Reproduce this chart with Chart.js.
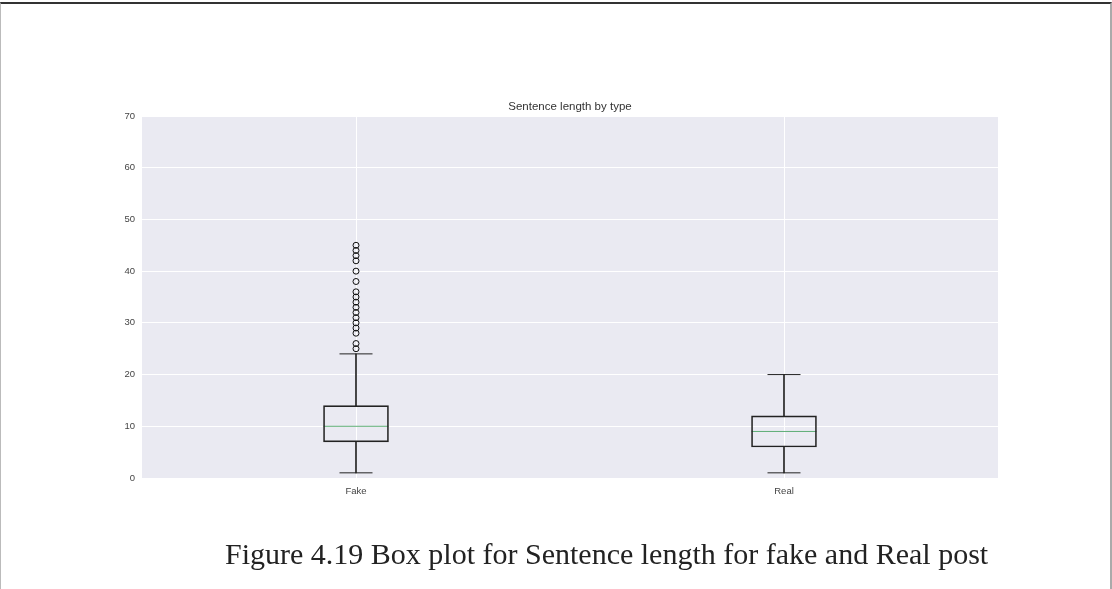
<!DOCTYPE html>
<html>
<head>
<meta charset="utf-8">
<script src="https://cdn.jsdelivr.net/npm/chart.js@4.4.1/dist/chart.umd.min.js"></script>
<style>
  html, body { margin: 0; padding: 0; background: #fff; }
  #page { position: relative; width: 1112px; height: 589px; overflow: hidden; }
  #frame { position: absolute; left: 0; top: 2px; width: 1109px; height: 600px;
           border-top: 2px solid #333; border-left: 1px solid #bbb; border-right: 2px solid #aaa; }
  #chart { position: absolute; left: 0; top: 0; }
  #caption { position: absolute; left: 225px; top: 537px; font-family: "Liberation Serif", "Times New Roman", serif;
             font-size: 30px; line-height: 34px; color: #222; white-space: nowrap; }
</style>
</head>
<body>
<div id="page">
  <div id="frame"></div>
  <canvas id="chart" width="1112" height="589"></canvas>
  <div id="caption">Figure 4.19 Box plot for Sentence length for fake and Real post</div>
</div>
<script>
document.addEventListener("DOMContentLoaded", () => {

  /* DATA */
  const categories = ["Fake", "Real"];
  const whiskerLow = [1, 1];
  const q1 = [7, 6];
  const median = [10, 9];
  const q3 = [14, 12];
  const whiskerHigh = [24, 20];
  const fakeOutliers = [25, 26, 28, 29, 30, 31, 32, 33, 34, 35, 36, 38, 40, 42, 43, 44, 45];
  const yMin = 0, yMax = 70, yStep = 10;
  const chartTitle = "Sentence length by type";

  const ink = "#222";
  const sans = "Liberation Sans, Arial, sans-serif";

  /* plot background + title centred over the plot area */
  const plotBg = {
    id: "plotBg",
    beforeDraw(chart) {
      const { ctx, chartArea: a } = chart;
      ctx.save();
      ctx.fillStyle = "#eaeaf2";
      ctx.fillRect(a.left, a.top, a.right - a.left, a.bottom - a.top);
      ctx.fillStyle = "#333";
      ctx.font = "11.5px " + sans;
      ctx.textAlign = "center";
      ctx.textBaseline = "middle";
      ctx.fillText(chartTitle, (a.left + a.right) / 2, a.top - 9);
      ctx.restore();
    }
  };

  const pts = (vals) => categories.map((c, i) => ({ x: c, y: vals[i] }));

  new Chart(document.getElementById("chart"), {
    type: "bar",
    data: {
      labels: categories,
      datasets: [
        {
          // lower whisker
          data: categories.map((c, i) => [whiskerLow[i], q1[i]]),
          backgroundColor: ink, barThickness: 1, grouped: false, borderWidth: 0
        },
        {
          // upper whisker
          data: categories.map((c, i) => [q3[i], whiskerHigh[i]]),
          backgroundColor: ink, barThickness: 1, grouped: false, borderWidth: 0
        },
        {
          // box
          data: categories.map((c, i) => [q1[i], q3[i]]),
          backgroundColor: "rgba(0,0,0,0)", borderColor: ink, borderWidth: 1,
          borderSkipped: false, barThickness: 65, grouped: false
        },
        {
          type: "line", data: pts(median), showLine: false,
          pointStyle: "line", pointRadius: 32.5, pointHoverRadius: 32.5,
          borderColor: "#5fae76", pointBorderColor: "#5fae76", borderWidth: 1
        },
        {
          type: "line", data: pts(whiskerLow), showLine: false,
          pointStyle: "line", pointRadius: 16.5, pointHoverRadius: 16.5,
          borderColor: ink, pointBorderColor: ink, borderWidth: 1
        },
        {
          type: "line", data: pts(whiskerHigh), showLine: false,
          pointStyle: "line", pointRadius: 16.5, pointHoverRadius: 16.5,
          borderColor: ink, pointBorderColor: ink, borderWidth: 1
        },
        {
          type: "line", data: fakeOutliers.map(v => ({ x: "Fake", y: v })), showLine: false,
          pointStyle: "circle", pointRadius: 3, pointHoverRadius: 3,
          pointBackgroundColor: "rgba(0,0,0,0)", pointBorderColor: "#111", borderWidth: 1
        }
      ]
    },
    options: {
      responsive: false,
      animation: false,
      events: [],
      layout: { padding: { left: 0, right: 114, top: 116, bottom: 0 } },
      plugins: {
        legend: { display: false },
        tooltip: { enabled: false },
        title: { display: false }
      },
      scales: {
        x: {
          offset: true,
          grid: { color: "#ffffff", lineWidth: 1, offset: false, drawTicks: false },
          border: { display: false },
          ticks: { color: "#444", padding: 8, font: { family: sans, size: 9.5 } },
          afterFit: s => { s.height = 111; }
        },
        y: {
          min: yMin, max: yMax,
          grid: { color: "#ffffff", lineWidth: 1, drawTicks: false },
          border: { display: false },
          ticks: { stepSize: yStep, color: "#444", padding: 7, font: { family: sans, size: 9.5 } },
          afterFit: s => { s.width = 142; }
        }
      }
    },
    plugins: [plotBg]
  });

});
</script>
</body>
</html>
